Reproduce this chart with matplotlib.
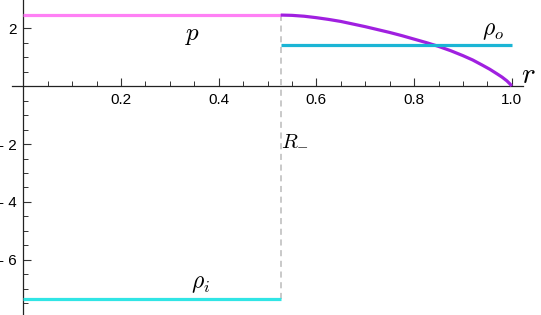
import numpy as np
import matplotlib
matplotlib.use("Agg")
import matplotlib.pyplot as plt
from matplotlib.ticker import MultipleLocator, FixedLocator, FuncFormatter

plt.rcParams['mathtext.fontset'] = 'cm'

# values
R_minus = 0.527
p_inner = 2.45
rho_o = 1.40
rho_i = -7.34

# pressure in the outer region (R_minus..1)
r_outer = [0.527, 0.55, 0.575, 0.60, 0.625, 0.65, 0.675, 0.70, 0.725, 0.75, 0.775,
           0.80, 0.825, 0.85, 0.875, 0.90, 0.92, 0.94, 0.955, 0.97, 0.98, 0.99, 0.996, 1.0]
p_outer = [2.45, 2.44, 2.41, 2.36, 2.30, 2.23, 2.14, 2.05, 1.95, 1.85, 1.74,
           1.62, 1.50, 1.37, 1.22, 1.05, 0.90, 0.72, 0.58, 0.42, 0.31, 0.18, 0.08, 0.0]

xticks = [0.2, 0.4, 0.6, 0.8, 1.0]
yticks = [-6, -4, -2, 2]

W, H = 541, 315
fig = plt.figure(figsize=(W / 100, H / 100), dpi=100)
ax = fig.add_axes([12 / W, 0, (523 - 12) / W, 1])
ax.set_xlim(-0.0232, 1.023)
ax.set_ylim(-7.9, 2.97)

# lines
ax.plot([0, R_minus], [p_inner, p_inner], color='#ff80f5', lw=2.3, solid_capstyle='butt', zorder=3)
ax.plot(r_outer, p_outer, color='#a020e0', lw=2.3, solid_capstyle='butt', zorder=3)
ax.plot([R_minus, 1.0], [rho_o, rho_o], color='#1bb5d5', lw=2.3, solid_capstyle='butt', zorder=3)
ax.plot([0, R_minus], [rho_i, rho_i], color='#30e5e5', lw=2.3, solid_capstyle='butt', zorder=3)
ax.plot([R_minus, R_minus], [rho_i, p_inner], color='#bbbbbb', lw=1.1, ls=(0, (4, 3)), zorder=2)

# labels
ax.text(0.347, 1.76, r'$p$', fontsize=18, ha='center', va='center')
ax.text(0.962, 1.93, r'$\rho_o$', fontsize=17, ha='center', va='center')
ax.text(0.556, -1.86, r'$R_{-}$', fontsize=15, ha='center', va='center')
ax.text(0.362, -6.8, r'$\rho_i$', fontsize=17, ha='center', va='center')
ax.text(1.033, 0.38, r'$r$', fontsize=21, ha='center', va='center', clip_on=False)

# axes through origin, Mathematica style
for s in ['top', 'right']:
    ax.spines[s].set_visible(False)
ax.spines['left'].set_position(('data', 0))
ax.spines['bottom'].set_position(('data', 0))
for s in ['left', 'bottom']:
    ax.spines[s].set_linewidth(0.9)
    ax.spines[s].set_color('#222222')

ax.xaxis.set_major_locator(FixedLocator(xticks))
ax.xaxis.set_minor_locator(MultipleLocator(0.05))
ax.yaxis.set_major_locator(FixedLocator(yticks))
ax.yaxis.set_minor_locator(MultipleLocator(0.5))
ax.xaxis.set_major_formatter(FuncFormatter(lambda v, pos: f"{v:.1f}"))
ax.yaxis.set_major_formatter(FuncFormatter(lambda v, pos: f"- {abs(int(v))}" if v < 0 else f"{int(v)}"))

ax.tick_params(which='major', direction='in', length=6, width=0.8, color='#333333',
               labelsize=11, pad=5)
ax.tick_params(which='minor', direction='in', length=3.5, width=0.7, color='#333333')
for lab in ax.get_xticklabels() + ax.get_yticklabels():
    lab.set_family('Liberation Sans')

fig.savefig("out.png", dpi=100)
